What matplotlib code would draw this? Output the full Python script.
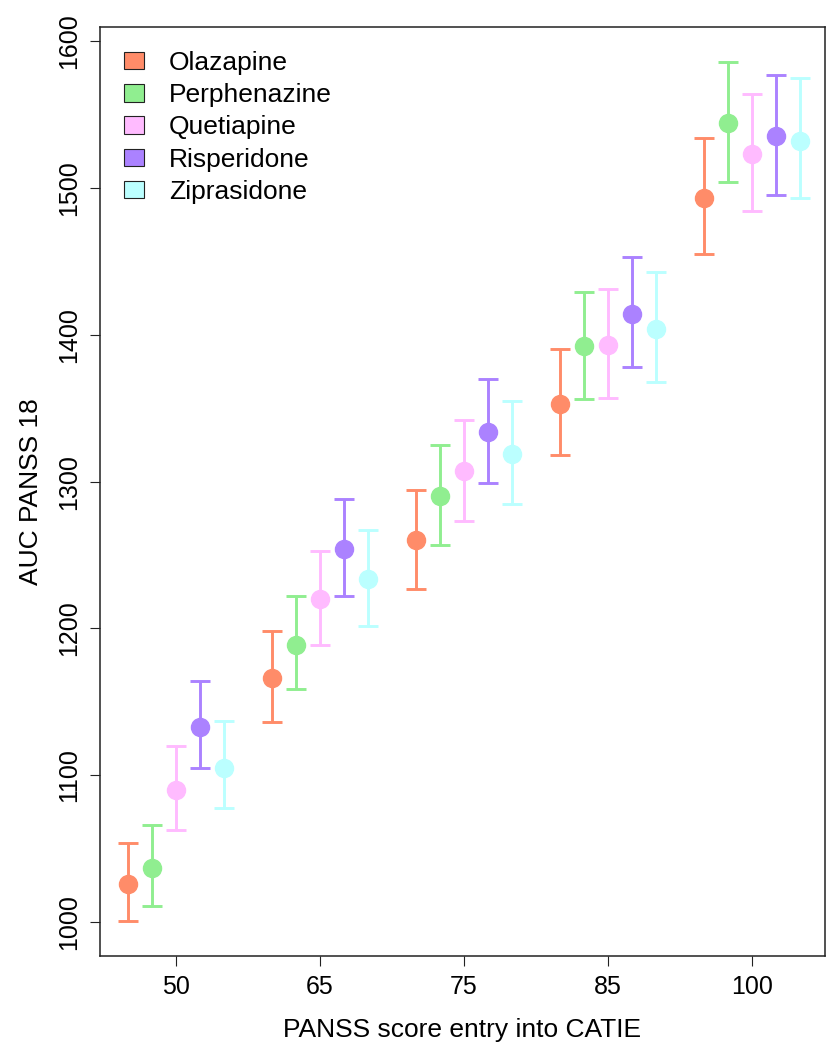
import matplotlib
matplotlib.use('Agg')
import matplotlib.pyplot as plt
from matplotlib.patches import Patch
import numpy as np

# AUC PANSS 18 by PANSS entry score and drug
drugs = ['Olazapine', 'Perphenazine', 'Quetiapine', 'Risperidone', 'Ziprasidone']
colors = ['#FF8C69', '#90EE90', '#FFBBFF', '#AB82FF', '#BBFFFF']
entry_scores = ['50', '65', '75', '85', '100']

auc = {
    'Olazapine':    [1026, 1166, 1260, 1353, 1493],
    'Perphenazine': [1037, 1189, 1290, 1392, 1544],
    'Quetiapine':   [1090, 1220, 1307, 1393, 1523],
    'Risperidone':  [1133, 1254, 1334, 1414, 1535],
    'Ziprasidone':  [1105, 1234, 1319, 1404, 1532],
}
lower = {
    'Olazapine':    [1001, 1136, 1227, 1318, 1455],
    'Perphenazine': [1011, 1159, 1257, 1356, 1504],
    'Quetiapine':   [1063, 1189, 1273, 1357, 1484],
    'Risperidone':  [1105, 1222, 1299, 1378, 1495],
    'Ziprasidone':  [1078, 1202, 1285, 1368, 1493],
}
upper = {
    'Olazapine':    [1054, 1198, 1294, 1390, 1534],
    'Perphenazine': [1066, 1222, 1325, 1429, 1586],
    'Quetiapine':   [1120, 1253, 1342, 1431, 1564],
    'Risperidone':  [1164, 1288, 1370, 1453, 1577],
    'Ziprasidone':  [1137, 1267, 1355, 1443, 1575],
}

plt.rcParams['font.family'] = ['Liberation Sans', 'DejaVu Sans']

fig = plt.figure(figsize=(8.34, 10.5), dpi=100)
ax = fig.add_axes([100/834, 1-956/1050, 725/834, 929/1050])

gap = 6  # positions per group (5 drugs + 1 empty slot)
for d, drug in enumerate(drugs):
    x = np.arange(len(entry_scores)) * gap + d + 1
    y = np.array(auc[drug])
    yerr = [y - np.array(lower[drug]), np.array(upper[drug]) - y]
    ax.errorbar(x, y, yerr=yerr, fmt='o', color=colors[d], ms=13, mec=colors[d],
                elinewidth=2.1, capsize=7, capthick=2.1)

centers = np.arange(len(entry_scores)) * gap + 3
ax.set_xticks(centers)
ax.set_xticklabels(entry_scores, fontsize=18)
ax.set_xlim(-0.17, 30.04)
ax.set_ylim(977, 1609.5)
ax.set_yticks(range(1000, 1601, 100))
ax.set_yticklabels([str(v) for v in range(1000, 1601, 100)], fontsize=18,
                   rotation=90, va='center')
ax.tick_params(length=7, width=0.8, pad=6.5, color='#222222')
for s in ax.spines.values():
    s.set_linewidth(1.1)
    s.set_color('#222222')
ax.set_xlabel('PANSS score entry into CATIE', fontsize=19, labelpad=14)
ax.set_ylabel('AUC PANSS 18', fontsize=19, labelpad=10)

handles = [Patch(facecolor=c, edgecolor='#222222', linewidth=0.8) for c in colors]
ax.legend(handles, drugs, loc='upper left', frameon=False, fontsize=19,
          bbox_to_anchor=(24/725, 1 - 24/929), borderpad=0, borderaxespad=0,
          handlelength=0.76, handleheight=0.64, handletextpad=0.95, labelspacing=0.31)

fig.savefig('out.png', dpi=100)
